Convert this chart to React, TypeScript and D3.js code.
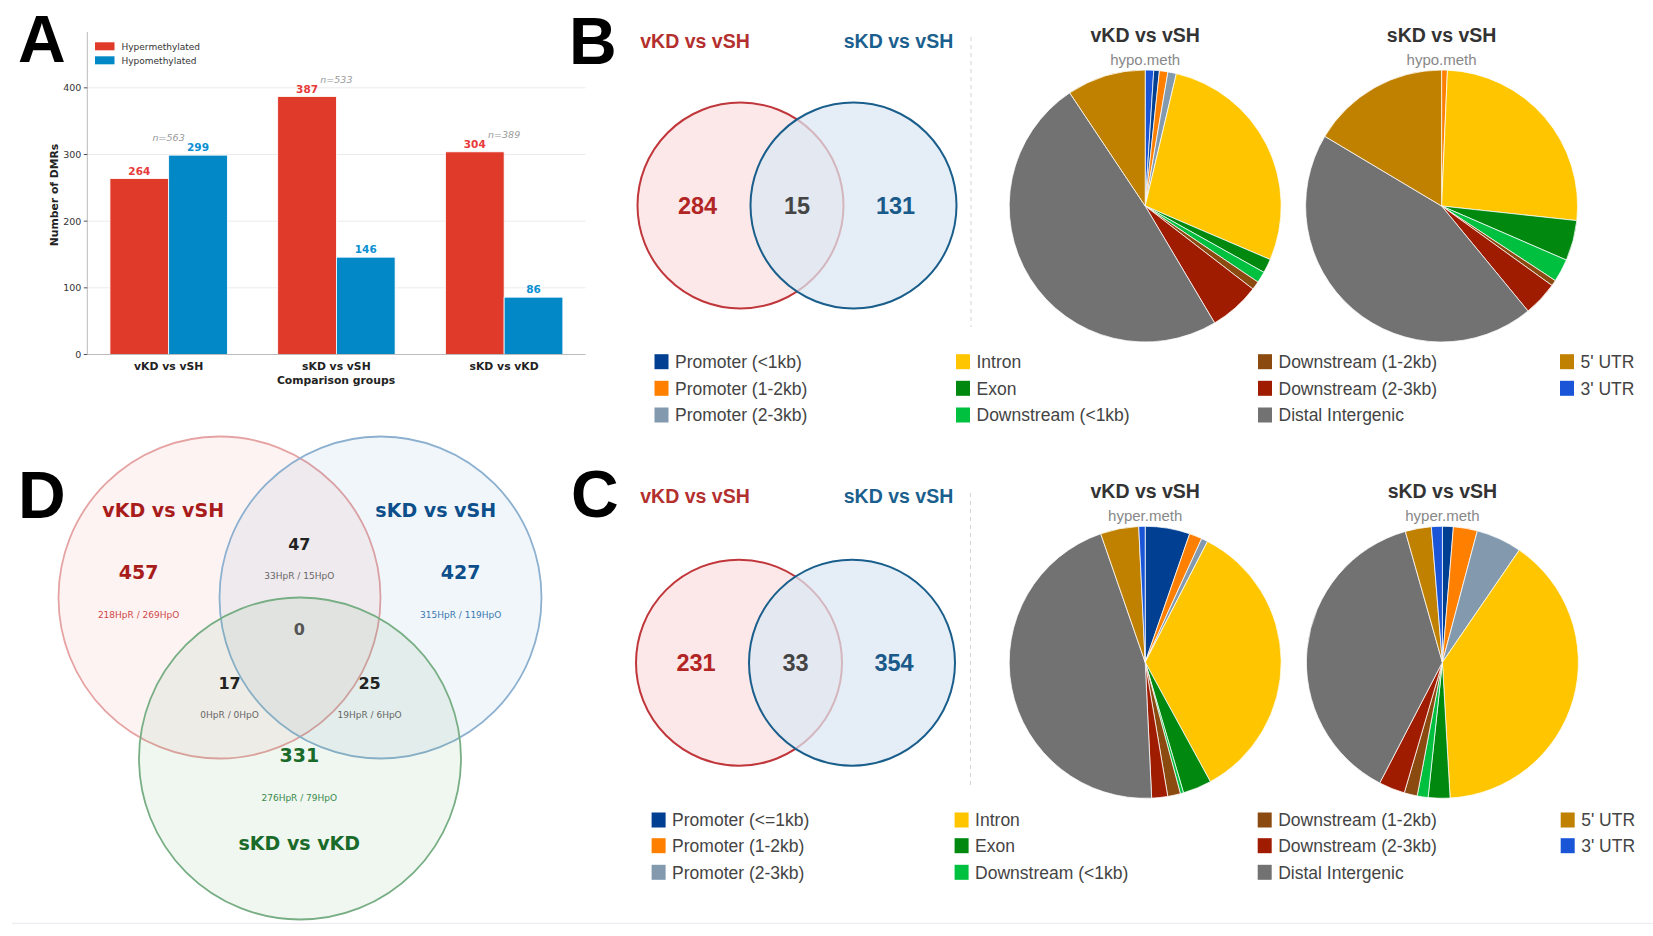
import React from 'react';
import * as d3 from 'd3';

// ---- Panel A: DMR counts per comparison ----
const groups = ['vKD vs vSH', 'sKD vs vSH', 'sKD vs vKD'];
const hyperCounts = [264, 387, 304];
const hypoCounts = [299, 146, 86];
const groupTotals = [563, 533, 389];
const yTicks = [0, 100, 200, 300, 400];

// ---- Panels B / C: two-way overlaps [left only, shared, right only] ----
const pairSets = ['vKD vs vSH', 'sKD vs vSH'];
const hypoOverlap = [284, 15, 131];
const hyperOverlap = [231, 33, 354];

// ---- genomic feature annotation ----
const features = [
  'Promoter (<1kb)', 'Promoter (1-2kb)', 'Promoter (2-3kb)',
  'Intron', 'Exon', 'Downstream (<1kb)',
  'Downstream (1-2kb)', 'Downstream (2-3kb)', 'Distal Intergenic',
  "5' UTR", "3' UTR",
];
const featuresHyper = [
  'Promoter (<=1kb)', 'Promoter (1-2kb)', 'Promoter (2-3kb)',
  'Intron', 'Exon', 'Downstream (<1kb)',
  'Downstream (1-2kb)', 'Downstream (2-3kb)', 'Distal Intergenic',
  "5' UTR", "3' UTR",
];
const featureColors = [
  '#003f91', '#ff8000', '#8299ae',
  '#ffc600', '#00880f', '#00c040',
  '#8b4a0f', '#a01c00', '#727272',
  '#c08000', '#1a55d8',
];

// slice order (feature index) and counts, clockwise from 12 o'clock
const hypoVkdOrder = [10, 0, 1, 2, 3, 4, 5, 6, 7, 8, 9];
const hypoVkdCounts = [3, 2, 3, 3, 83, 5, 4, 3, 18, 147, 28];
const hypoSkdOrder = [1, 3, 4, 5, 6, 7, 8, 9];
const hypoSkdCounts = [1, 38, 7, 4, 1, 6, 65, 24];
const hyperVkdOrder = [0, 1, 2, 3, 4, 5, 6, 7, 8, 9, 10];
const hyperVkdCounts = [14, 4, 2, 91, 9, 1, 4, 5, 120, 12, 2];
const hyperSkdOrder = [0, 1, 2, 3, 4, 5, 6, 7, 8, 9, 10];
const hyperSkdCounts = [5, 11, 21, 153, 10, 5, 6, 12, 147, 12, 5];

// ---- Panel D: three-way overlap ----
const tripleSets = ['vKD vs vSH', 'sKD vs vSH', 'sKD vs vKD'];
const tripleOnly = [457, 427, 331];
const tripleOnlySplit = ['218HpR / 269HpO', '315HpR / 119HpO', '276HpR / 79HpO'];
// vKD∩sKD(vSH), vKD∩(sKD vs vKD), sKD(vSH)∩(sKD vs vKD)
const triplePairs = [47, 17, 25];
const triplePairSplit = ['33HpR / 15HpO', '0HpR / 0HpO', '19HpR / 6HpO'];
const tripleAll = 0;

const SANS = 'Liberation Sans, Arial, sans-serif';
const DJ = 'DejaVu Sans, sans-serif';

const BarPanel = () => {
  const x = d3.scaleLinear().domain([-0.485, 2.485]).range([87.3, 585.5]);
  const y = d3.scaleLinear().domain([0, 483.75]).range([354.5, 32]);
  const w = 0.35;
  return (
    <g fontFamily={DJ}>
      {yTicks.slice(1).map(t => (
        <line key={t} x1={x.range()[0]} x2={x.range()[1]} y1={y(t)} y2={y(t)} stroke="#ebebeb" strokeWidth={1} />
      ))}
      {groups.map((g, i) => (
        <g key={g}>
          <rect x={x(i - w)} y={y(hyperCounts[i])} width={x(i) - x(i - w)} height={y(0) - y(hyperCounts[i])}
            fill="#e03a2a" stroke="#fff" strokeWidth={0.8} />
          <rect x={x(i)} y={y(hypoCounts[i])} width={x(i + w) - x(i)} height={y(0) - y(hypoCounts[i])}
            fill="#0288c7" stroke="#fff" strokeWidth={0.8} />
          <text x={x(i - w / 2)} y={y(hyperCounts[i]) - 4} textAnchor="middle" fontSize={10.5} fontWeight="bold" fill="#e8393a">{hyperCounts[i]}</text>
          <text x={x(i + w / 2)} y={y(hypoCounts[i]) - 4} textAnchor="middle" fontSize={10.5} fontWeight="bold" fill="#0a90d2">{hypoCounts[i]}</text>
          <text x={x(i)} y={y(Math.max(hyperCounts[i], hypoCounts[i]) + 21)} textAnchor="middle" fontSize={9.5} fontStyle="italic" fill="#999">n={groupTotals[i]}</text>
          <text x={x(i)} y={369.5} textAnchor="middle" fontSize={10.8} fontWeight="bold" fill="#222">{g}</text>
        </g>
      ))}
      <line x1={x.range()[0]} x2={x.range()[0]} y1={y.range()[1]} y2={y(0)} stroke="#bbb" />
      <line x1={x.range()[0]} x2={x.range()[1]} y1={y(0)} y2={y(0)} stroke="#bbb" />
      {yTicks.map(t => (
        <g key={t}>
          <line x1={x.range()[0] - 3.5} x2={x.range()[0]} y1={y(t)} y2={y(t)} stroke="#555" />
          <text x={x.range()[0] - 6} y={y(t) + 3.4} textAnchor="end" fontSize={9.5} fill="#333">{t}</text>
        </g>
      ))}
      <text x={336} y={384} textAnchor="middle" fontSize={10.8} fontWeight="bold" fill="#222">Comparison groups</text>
      <text transform="translate(57.5,195) rotate(-90)" textAnchor="middle" fontSize={10.8} fontWeight="bold" fill="#222">Number of DMRs</text>
      <rect x={95} y={42.3} width={19.5} height={8} fill="#e03a2a" />
      <rect x={95} y={56.3} width={19.5} height={8} fill="#0288c7" />
      <text x={121.5} y={49.5} fontSize={9} fill="#333">Hypermethylated</text>
      <text x={121.5} y={63.5} fontSize={9} fill="#333">Hypomethylated</text>
    </g>
  );
};

const PairVenn = ({ counts, cy, lx, rx, titleY }: { counts: number[]; cy: number; lx: number; rx: number; titleY: number }) => (
  <g fontFamily={SANS} fontWeight="bold">
    <circle cx={lx} cy={cy} r={103} fill="#fce8e8" stroke="#c0363a" strokeWidth={2} />
    <circle cx={rx} cy={cy} r={103} fill="#dbe7f2" fillOpacity={0.72} stroke="none" />
    <circle cx={rx} cy={cy} r={103} fill="none" stroke="#1a5e8c" strokeWidth={2} />
    <text x={695} y={titleY} textAnchor="middle" fontSize={19.5} fill="#b3302e">{pairSets[0]}</text>
    <text x={898.5} y={titleY} textAnchor="middle" fontSize={19.5} fill="#1b5f8e">{pairSets[1]}</text>
    <text x={lx - 43} y={cy + 8.5} textAnchor="middle" fontSize={23.5} fill="#b22525">{counts[0]}</text>
    <text x={(lx + rx) / 2} y={cy + 8.5} textAnchor="middle" fontSize={23.5} fill="#444">{counts[1]}</text>
    <text x={rx + 42} y={cy + 8.5} textAnchor="middle" fontSize={23.5} fill="#1a5a8a">{counts[2]}</text>
  </g>
);

const Pie = ({ cx, cy, order, counts, title, sub }: { cx: number; cy: number; order: number[]; counts: number[]; title: string; sub: string }) => {
  const slices = d3.pie<number>().sort(null).value(d => d)(counts);
  const arc = d3.arc<d3.PieArcDatum<number>>().innerRadius(0).outerRadius(136);
  return (
    <g>
      <text x={cx} y={cy - 164.5} textAnchor="middle" fontFamily={SANS} fontWeight="bold" fontSize={19.5} fill="#333">{title}</text>
      <text x={cx} y={cy - 141.5} textAnchor="middle" fontFamily={SANS} fontSize={15} fill="#888">{sub}</text>
      <g transform={`translate(${cx},${cy})`}>
        {slices.map((s, i) => (
          <path key={i} d={arc(s) || ''} fill={featureColors[order[i]]} stroke="#fff" strokeOpacity={0.75} strokeWidth={1} />
        ))}
      </g>
    </g>
  );
};

const Legend = ({ labels, rows, cols }: { labels: string[]; rows: number[]; cols: number[] }) => (
  <g fontFamily={SANS} fontSize={17.5} fill="#444">
    {labels.map((l, i) => {
      const c = Math.floor(i / 3);
      const r = i % 3;
      return (
        <g key={l}>
          <rect x={cols[c]} y={rows[r] - 7.5} width={14} height={15} fill={featureColors[i]} />
          <text x={cols[c] + 20.5} y={rows[r] + 6.3}>{l}</text>
        </g>
      );
    })}
  </g>
);

const TripleVenn = () => {
  const circles = [
    { cx: 219.5, cy: 597.5, fill: 'rgba(220,80,80,0.07)', stroke: '#e6a3a3' },
    { cx: 380.5, cy: 597.5, fill: 'rgba(70,130,190,0.075)', stroke: '#8cb0cf' },
    { cx: 300, cy: 758.5, fill: 'rgba(60,150,80,0.08)', stroke: '#78ae84' },
  ];
  const setColor = ['#a81c1c', '#0d4f8b', '#1a6b2a'];
  const splitColor = ['#d04848', '#3a78b0', '#3a8a4a'];
  const onlyPos = [[138.6, 572.3], [460.7, 572.3], [299.3, 755]];
  const titlePos = [[163.2, 510], [435.7, 510], [299.3, 843.3]];
  const pairPos = [[299.3, 544], [229.6, 683.3], [369.6, 683.3]];
  return (
    <g fontFamily={DJ}>
      {circles.map((c, i) => (
        <circle key={i} cx={c.cx} cy={c.cy} r={161} fill={c.fill} stroke={c.stroke} strokeWidth={1.8} />
      ))}
      {tripleSets.map((s, i) => (
        <g key={s}>
          <text x={titlePos[i][0]} y={titlePos[i][1] + 7} textAnchor="middle" fontSize={19} fontWeight="bold" fill={setColor[i]}>{s}</text>
          <text x={onlyPos[i][0]} y={onlyPos[i][1] + 7} textAnchor="middle" fontSize={19} fontWeight="bold" fill={setColor[i]}>{tripleOnly[i]}</text>
          <text x={onlyPos[i][0]} y={onlyPos[i][1] + 42.7 + 3.3} textAnchor="middle" fontSize={9} fill={splitColor[i]}>{tripleOnlySplit[i]}</text>
        </g>
      ))}
      {triplePairs.map((v, i) => (
        <g key={i}>
          <text x={pairPos[i][0]} y={pairPos[i][1] + 6} textAnchor="middle" fontSize={16} fontWeight="bold" fill="#222">{v}</text>
          <text x={pairPos[i][0]} y={pairPos[i][1] + 31.3 + 3.3} textAnchor="middle" fontSize={9} fill="#666">{triplePairSplit[i]}</text>
        </g>
      ))}
      <text x={299.3} y={635.3} textAnchor="middle" fontSize={16} fontWeight="bold" fill="#555">{tripleAll}</text>
    </g>
  );
};

const App = () => {
  const legendColsB = [654.5, 956, 1258, 1560];
  const legendColsC = [651.6, 954.6, 1257.7, 1560.7];
  return (
    <svg width={1653} height={936} style={{ position: 'absolute', left: 0, top: 0, background: '#fff' }}>
      <rect width={1653} height={936} fill="#fff" />
      <BarPanel />

      <PairVenn counts={hypoOverlap} cy={205.5} lx={740.5} rx={853.5} titleY={48} />
      <line x1={971} x2={971} y1={37} y2={327} stroke="#d4d4d4" strokeDasharray="4,4" />
      <Pie cx={1145.2} cy={206} order={hypoVkdOrder} counts={hypoVkdCounts} title="vKD vs vSH" sub="hypo.meth" />
      <Pie cx={1441.6} cy={206} order={hypoSkdOrder} counts={hypoSkdCounts} title="sKD vs vSH" sub="hypo.meth" />
      <Legend labels={features} rows={[361.7, 388.3, 415]} cols={legendColsB} />

      <PairVenn counts={hyperOverlap} cy={662.7} lx={739} rx={852} titleY={502.7} />
      <line x1={970.5} x2={970.5} y1={493} y2={787} stroke="#d4d4d4" strokeDasharray="4,4" />
      <Pie cx={1145.2} cy={662.3} order={hyperVkdOrder} counts={hyperVkdCounts} title="vKD vs vSH" sub="hyper.meth" />
      <Pie cx={1442.4} cy={662.3} order={hyperSkdOrder} counts={hyperSkdCounts} title="sKD vs vSH" sub="hyper.meth" />
      <Legend labels={featuresHyper} rows={[820, 845.7, 872.3]} cols={legendColsC} />

      <TripleVenn />
      <line x1={12} x2={1653} y1={923.3} y2={923.3} stroke="#ece6ee" />

      <g fontFamily={SANS} fontWeight="bold" fontSize={66} fill="#000">
        <text x={18} y={62}>A</text>
        <text x={569} y={64}>B</text>
        <text x={571} y={517}>C</text>
        <text x={18} y={518}>D</text>
      </g>
    </svg>
  );
};

export default App;
